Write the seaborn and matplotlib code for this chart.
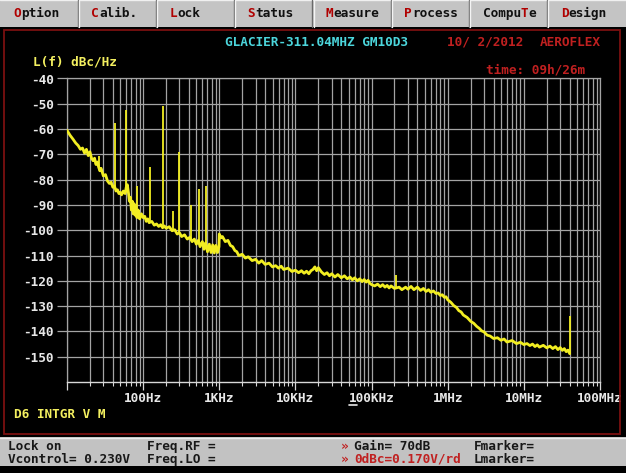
import matplotlib
matplotlib.use("Agg")
import matplotlib.pyplot as plt
import seaborn as sns
import pandas as pd
from matplotlib.patches import Rectangle
from matplotlib.lines import Line2D

# ---------------- data ----------------
freq_hz = [
    10, 11, 12, 13, 14, 15, 16, 17, 18, 19,
    20, 21, 22, 23, 24, 25, 26, 27, 28, 30,
    32, 34, 36, 38, 40, 42, 44, 46, 48, 50,
    52, 55, 58, 60, 62, 64, 66, 68, 70, 72,
    74, 76, 78, 80, 83, 86, 90, 95, 100, 105,
    110, 115, 120, 130, 140, 150, 160, 170, 180, 190,
    200, 220, 240, 260, 280, 300, 320, 350, 380, 410,
    440, 470, 500, 530, 560, 600, 630, 660, 700, 740,
    780, 820, 860, 900, 950, 990, 1000, 1050, 1100, 1200,
    1300, 1400, 1500, 1600, 1700, 1800, 2000, 2200, 2400, 2700,
    3000, 3300, 3600, 4000, 4500, 5000, 5500, 6000, 6500, 7000,
    8000, 9000, 10000, 11000, 12000, 13000, 14000, 15000, 16000, 17000,
    18000, 19000, 20000, 22000, 24000, 26000, 28000, 30000, 33000, 36000,
    40000, 44000, 48000, 52000, 56000, 60000, 65000, 70000, 75000, 80000,
    85000, 90000, 95000, 100000, 110000, 120000, 130000, 140000, 150000, 160000,
    170000, 180000, 200000, 230000, 250000, 280000, 300000, 330000, 360000, 400000,
    440000, 480000, 520000, 560000, 600000, 650000, 700000, 750000, 800000, 850000,
    900000, 950000, 1.0e6, 1.1e6, 1.2e6, 1.3e6, 1.4e6, 1.5e6, 1.6e6, 1.8e6,
    2.0e6, 2.2e6, 2.4e6, 2.6e6, 2.8e6, 3.0e6, 3.3e6, 3.6e6, 4.0e6, 4.5e6,
    5.0e6, 5.5e6, 6.0e6, 7.0e6, 8.0e6, 9.0e6, 1.0e7, 1.1e7, 1.2e7, 1.3e7,
    1.4e7, 1.5e7, 1.6e7, 1.8e7, 2.0e7, 2.2e7, 2.4e7, 2.6e7, 2.8e7, 3.0e7,
    3.2e7, 3.4e7, 3.6e7, 3.8e7, 4.0e7,
]
level_dbc = [
    -60.5, -62.5, -64.0, -65.5, -66.5, -68.0, -67.5, -69.5, -68.0, -70.5,
    -69.0, -71.5, -72.5, -71.5, -74.0, -73.0, -75.0, -76.5, -75.5, -78.5,
    -78.0, -80.5, -81.5, -81.0, -83.0, -82.5, -84.5, -84.0, -85.5, -85.0,
    -86.0, -84.5, -85.5, -83.0, -82.0, -85.0, -88.5, -87.0, -92.0, -88.5,
    -93.5, -89.5, -94.0, -90.5, -95.0, -92.0, -95.5, -93.5, -95.0, -94.5,
    -96.5, -95.5, -97.0, -96.5, -98.0, -97.5, -98.5, -97.8, -99.0, -98.3,
    -99.2, -98.6, -100.2, -99.8, -101.5, -101.0, -102.5, -101.8, -103.5, -102.8,
    -104.5, -103.5, -105.5, -104.0, -106.5, -104.5, -107.5, -105.0, -108.5, -105.5,
    -108.8, -105.8, -109.0, -106.0, -108.8, -106.5, -101.5, -103.0, -102.5, -104.5,
    -104.0, -106.0, -106.5, -108.0, -108.5, -110.0, -109.5, -111.0, -110.5, -112.0,
    -111.5, -113.0, -112.0, -113.5, -113.0, -114.5, -114.0, -115.0, -114.2, -115.5,
    -115.0, -116.3, -115.8, -116.8, -116.0, -117.0, -116.2, -117.2, -116.0, -115.5,
    -114.5, -116.0, -114.8, -116.5, -117.5, -116.8, -118.0, -117.2, -118.5, -117.5,
    -118.8, -118.0, -119.2, -118.5, -119.6, -118.8, -120.0, -119.2, -120.3, -119.5,
    -120.5, -119.8, -121.0, -121.5, -122.0, -121.3, -122.3, -121.5, -122.5, -121.8,
    -122.8, -122.0, -123.0, -122.5, -123.5, -122.5, -123.3, -122.2, -123.5, -122.5,
    -123.8, -123.0, -124.2, -123.5, -124.5, -124.0, -125.0, -124.8, -125.8, -125.5,
    -126.5, -126.3, -127.5, -128.5, -129.8, -130.5, -131.8, -132.3, -133.5, -134.5,
    -136.0, -136.8, -138.0, -138.8, -139.8, -140.2, -141.5, -141.8, -142.8, -142.5,
    -143.5, -143.0, -144.2, -143.6, -144.8, -144.3, -145.2, -144.8, -145.6, -145.0,
    -146.0, -145.3, -146.2, -145.5, -146.5, -145.8, -146.8, -146.0, -147.2, -146.4,
    -147.5, -146.8, -148.0, -147.4, -148.8,
]
spur_freq_hz = [26, 43, 60, 84, 122, 180, 244, 300, 427, 548, 671, 210000, 4.0e7]
spur_base_dbc = [-75, -83.5, -83, -93, -97, -99, -100, -101, -104, -105, -105.5, -122.5, -148.5]
spur_peak_dbc = [-70.5, -57.7, -52.4, -82.6, -75, -50.8, -92.5, -68.9, -90, -83.5, -82.6, -117.5, -134]

y_ticks = [-150, -140, -130, -120, -110, -100, -90, -80, -70, -60, -50, -40]
x_major = [1e1, 1e2, 1e3, 1e4, 1e5, 1e6, 1e7, 1e8]
x_labels = ["", "100Hz", "1KHz", "10KHz", "100KHz", "1MHz", "10MHz", "100MHz"]
x_minor = [m * d for d in [1e1, 1e2, 1e3, 1e4, 1e5, 1e6, 1e7] for m in range(2, 10)]

menu_items = ["Option", "Calib.", "Lock", "Status", "Measure", "Process", "CompuTe", "Design"]
menu_hot = [0, 0, 0, 0, 0, 0, 5, 0]

title_text = "GLACIER-311.04MHZ GM10D3"
date_text = "10/ 2/2012"
brand_text = "AEROFLEX"
time_text = "time: 09h/26m"
ylabel_text = "L(f) dBc/Hz"
mode_text = "D6 INTGR V M"

# ---------------- style ----------------
W, H = 626, 473
sns.set_theme(style="dark", rc={"axes.facecolor": "black", "figure.facecolor": "black"})
plt.rcParams["font.family"] = ["DejaVu Sans Mono", "DejaVu Sans"]
plt.rcParams["axes.unicode_minus"] = False
FS = 9.2

YEL = "#f2ee22"
GRID = "#a4a4a4"
LBL = "#e8e8e8"
RED_DARK = "#c02020"
MENU_RED = "#b00000"

fig = plt.figure(figsize=(W / 100, H / 100), dpi=100, facecolor="black")
renderer = fig.canvas.get_renderer()


def fx(x):
    return x / W


def fy(y):
    return 1 - y / H


def rect(x0, y0, x1, y1, **kw):
    fig.patches.append(Rectangle((fx(x0), fy(y1)), (x1 - x0) / W, (y1 - y0) / H,
                                 transform=fig.transFigure, **kw))


def line(xs, ys, **kw):
    fig.lines.append(Line2D([fx(x) for x in xs], [fy(y) for y in ys],
                            transform=fig.transFigure, **kw))


def txt(x, y, s, color, ha="left", **kw):
    return fig.text(fx(x), fy(y), s, color=color, fontsize=FS, fontweight="bold",
                    family="DejaVu Sans Mono", ha=ha, va="center", **kw)


def next_x(t, gap=0.0):
    return t.get_window_extent(renderer).x1 + gap


# ---------------- main plot ----------------
ax = fig.add_axes([fx(67), fy(382), (600 - 67) / W, (382 - 78.5) / H])
ax.set_facecolor("black")
ax.set_xscale("log")

df = pd.DataFrame({"freq": freq_hz, "level": level_dbc})
sns.lineplot(data=df, x="freq", y="level", ax=ax, color=YEL, lw=2.0,
             estimator=None, sort=False, zorder=5)
ax.vlines(spur_freq_hz, spur_base_dbc, spur_peak_dbc, color=YEL, lw=1.3, zorder=5)

ax.set_xlim(10, 1e8)
ax.set_ylim(-160, -40)
ax.set_xticks(x_major, x_labels)
ax.set_xticks(x_minor, minor=True)
ax.set_yticks(y_ticks)
ax.set_yticklabels([str(v) for v in y_ticks])
ax.set_xlabel("")
ax.set_ylabel("")

ax.grid(True, which="both", axis="x", color=GRID, lw=0.9)
ax.grid(True, which="major", axis="y", color=GRID, lw=0.9)
for s in ["top", "left", "right"]:
    ax.spines[s].set_color(GRID)
    ax.spines[s].set_linewidth(0.9)
ax.spines["bottom"].set_color("#d8d8d8")
ax.spines["bottom"].set_linewidth(1.0)

ax.tick_params(axis="y", which="major", direction="out", length=7.2, width=0.9,
               color=GRID, pad=2.5, labelcolor=LBL, labelsize=FS)
ax.tick_params(axis="x", which="major", direction="out", length=5.5, width=0.9,
               color="#d8d8d8", pad=2.0, labelcolor=LBL, labelsize=FS)
ax.tick_params(axis="x", which="minor", direction="out", length=3, width=0.8,
               color="#d8d8d8")
ax.tick_params(left=True, bottom=True)
ax.tick_params(axis="x", which="minor", bottom=True)
for lab in ax.get_xticklabels() + ax.get_yticklabels():
    lab.set_fontweight("bold")
    lab.set_family("DejaVu Sans Mono")

# ---------------- chrome ----------------
# menu bar
rect(0, 0, W, 27, facecolor="#c4c4c4", edgecolor="none", zorder=1)
line([0, W], [0.5, 0.5], color="#f0f0f0", lw=1, zorder=2)
bw = W / 8
for i, item in enumerate(menu_items):
    xs = i * bw
    if i > 0:
        line([xs - 0.7, xs - 0.7], [0, 27], color="#6a6a6a", lw=1.0, zorder=2)
        line([xs + 0.5, xs + 0.5], [0, 27], color="#f4f4f4", lw=1.0, zorder=2)
    x = 13 + i * bw
    hot = menu_hot[i]
    pre, key, post = item[:hot], item[hot], item[hot + 1:]
    if pre:
        t = txt(x, 13.5, pre, "#101010", zorder=3)
        x = next_x(t)
    t = txt(x, 13.5, key, MENU_RED, zorder=3)
    if post:
        txt(next_x(t), 13.5, post, "#101010", zorder=3)

# red screen border
rect(3.5, 30.5, 619.5, 433.5, facecolor="none", edgecolor="#7a1010", lw=1.3, zorder=1)

# header texts
txt(225, 42, title_text, "#4cd6dc")
txt(447, 42, date_text, RED_DARK)
txt(540, 42, brand_text, RED_DARK)
txt(486, 70, time_text, RED_DARK)
txt(33, 62, ylabel_text, "#f4f060")
txt(14, 414, mode_text, "#f4f060")

# small marker under 100KHz
line([349, 357], [405, 405], color=LBL, lw=1.2, zorder=2)

# status bar
rect(0, 437, W, 466, facecolor="#c2c2c2", edgecolor="none", zorder=1)
line([0, W], [437.5, 437.5], color="#ececec", lw=1, zorder=2)
txt(8, 446, "Lock on", "#181818")
txt(8, 459, "Vcontrol= 0.230V", "#181818")
txt(147, 446, "Freq.RF =", "#181818")
txt(147, 459, "Freq.LO =", "#181818")
txt(341, 446, "\u00bb", RED_DARK)
txt(354, 446, "Gain= 70dB", "#181818")
txt(341, 459, "\u00bb", RED_DARK)
txt(354, 459, "0dBc=0.170V/rd", RED_DARK)
txt(474, 446, "Fmarker=", "#181818")
txt(474, 459, "Lmarker=", "#181818")

fig.savefig("out.png", dpi=100, facecolor="black")
